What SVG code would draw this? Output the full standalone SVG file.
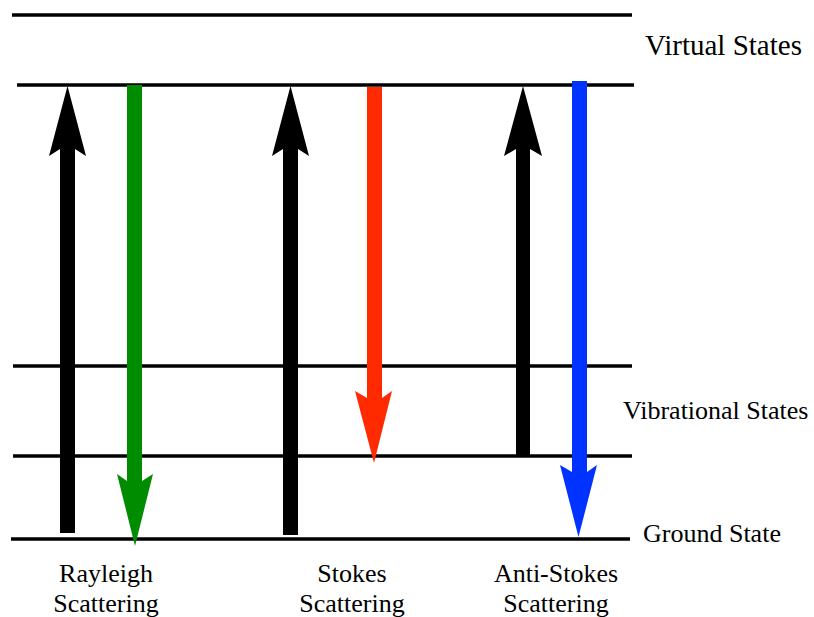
<svg xmlns="http://www.w3.org/2000/svg" width="814" height="617" viewBox="0 0 814 617">
<style>
.lvl{stroke:#000;stroke-width:3.5;fill:none}
.lbl{font-family:"Liberation Serif","Times New Roman",serif;fill:#000}
.bot{font-size:26px;text-anchor:middle}
.exc{fill:#000}
</style>
<rect width="814" height="617" fill="#fff"/>
<g id="virtual-states">
<line class="lvl" x1="12" y1="15" x2="632" y2="15"/>
<line class="lvl" x1="17" y1="85" x2="634" y2="85"/>
<text class="lbl" x="645" y="55" font-size="29">Virtual States</text>
</g>
<g id="vibrational-states">
<line class="lvl" x1="13" y1="366" x2="632" y2="366"/>
<line class="lvl" x1="13" y1="456" x2="632" y2="456"/>
<text class="lbl" x="623" y="419" font-size="26">Vibrational States</text>
</g>
<g id="ground-state">
<line class="lvl" x1="11" y1="539" x2="630" y2="539"/>
<text class="lbl" x="643" y="542" font-size="26">Ground State</text>
</g>
<g id="rayleigh">
<text class="lbl bot" x="106" y="582">Rayleigh</text>
<text class="lbl bot" x="106" y="612">Scattering</text>
</g>
<g id="stokes">
<text class="lbl bot" x="352" y="582">Stokes</text>
<text class="lbl bot" x="352" y="612">Scattering</text>
</g>
<g id="anti-stokes">
<text class="lbl bot" x="556" y="582">Anti-Stokes</text>
<text class="lbl bot" x="556" y="612">Scattering</text>
</g>
<g id="connectors">
<polygon class="exc" points="67.5,86 86,156 75,149 75,533 60,533 60,149 49,156"/>
<polygon class="exc" points="290.5,86 309,156 298,149 298,535 283,535 283,149 272,156"/>
<polygon class="exc" points="523,86 542,156 530,149 530,456 516,456 516,149 504,156"/>
<polygon fill="#008c00" points="127,85 142,85 142,481 153,474 135,546 117,474 127,481"/>
<polygon fill="#ff2a00" points="367,87 382,87 382,398 392,391 374,463 355,391 367,398"/>
<polygon fill="#0033ff" points="572,81 587,81 587,472 597,465 578.5,537 560,465 572,472"/>
</g>
</svg>
